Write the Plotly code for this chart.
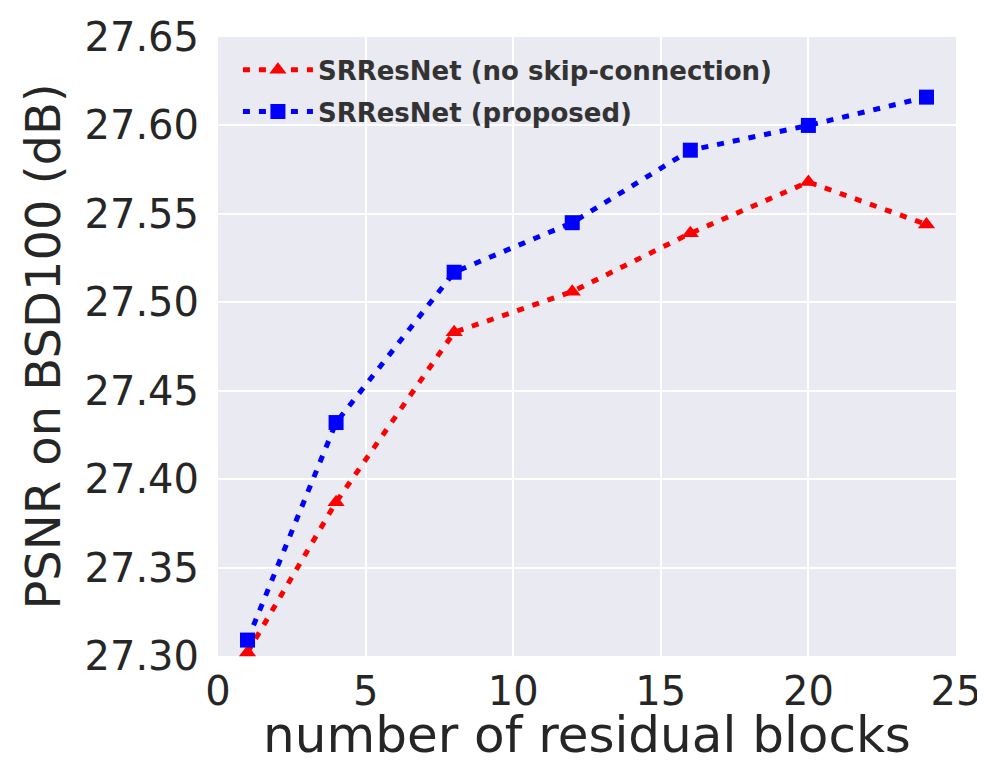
import plotly.graph_objects as go

blocks = [1, 4, 8, 12, 16, 20, 24]
psnr_no_skip = [27.302, 27.387, 27.483, 27.506, 27.539, 27.568, 27.544]
psnr_proposed = [27.309, 27.432, 27.517, 27.545, 27.586, 27.600, 27.616]
names = ["SRResNet (no skip-connection)", "SRResNet (proposed)"]
x_ticks = [0, 5, 10, 15, 20, 25]
y_ticks = [27.30, 27.35, 27.40, 27.45, 27.50, 27.55, 27.60, 27.65]

fig = go.Figure()
fig.add_trace(go.Scatter(
    x=blocks, y=psnr_no_skip, name=names[0], mode="lines+markers",
    line=dict(color="#ff0000", width=5, dash="7px,9px"),
    marker=dict(symbol="triangle-up", size=15, color="#ff0000"),
    cliponaxis=False, legendgroup="a",
))
fig.add_trace(go.Scatter(
    x=blocks, y=psnr_proposed, name=names[1], mode="lines+markers",
    line=dict(color="#0000ff", width=5, dash="7px,9px"),
    marker=dict(symbol="square", size=15, color="#0000ff"),
    cliponaxis=False, legendgroup="b",
))

fig.update_layout(
    width=977, height=756,
    margin=dict(l=210, r=29, t=29, b=108, autoexpand=False),
    paper_bgcolor="white", plot_bgcolor="#EAEAF2",
    font=dict(family="DejaVu Sans", color="#262626"),
    showlegend=True,
    legend=dict(
        x=0.027, y=0.985, xanchor="left", yanchor="top",
        bgcolor="rgba(0,0,0,0)",
        font=dict(family="DejaVu Sans", size=26, color="#333333", weight="bold"),
        traceorder="grouped", tracegroupgap=5, itemwidth=70,
    ),
    xaxis=dict(
        range=[0, 25], tickvals=x_ticks, ticktext=[str(v) for v in x_ticks],
        showgrid=True, gridcolor="white", gridwidth=1.5, zeroline=False,
        showline=False, ticks="", tickfont=dict(size=40), automargin=False,
        ticklabelstandoff=8,
        title=dict(text="number of residual blocks", font=dict(size=50), standoff=12),
    ),
    yaxis=dict(
        range=[27.30, 27.65], tickvals=y_ticks, ticktext=[f"{v:.2f}" for v in y_ticks],
        showgrid=True, gridcolor="white", gridwidth=1.5, zeroline=False,
        showline=False, ticks="", tickfont=dict(size=40), automargin=False,
        ticklabelstandoff=18,
        title=dict(text="PSNR on BSD100 (dB)", font=dict(size=48), standoff=8),
    ),
)

fig.write_html("out.html")
